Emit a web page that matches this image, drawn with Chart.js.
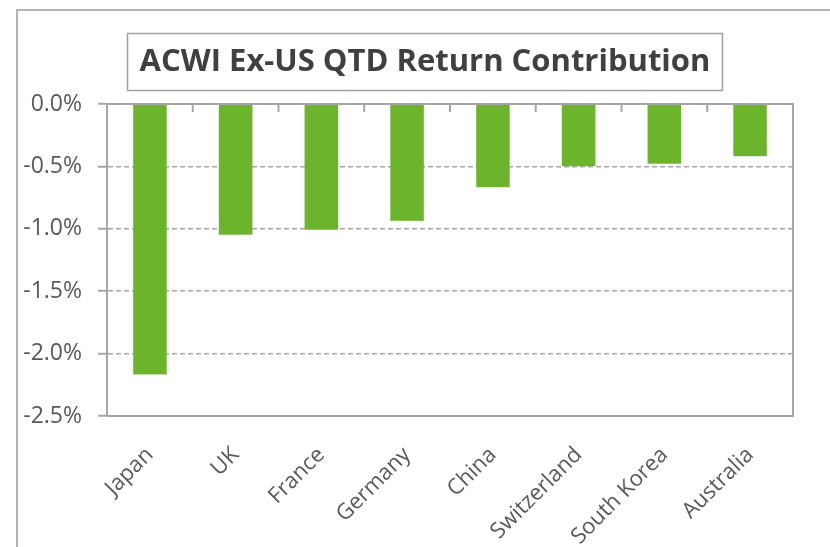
<!DOCTYPE html>
<html>
<head>
<meta charset="utf-8">
<script src="https://cdn.jsdelivr.net/npm/chart.js@4/dist/chart.umd.min.js"></script>
<style>
  html, body { margin: 0; padding: 0; background: #fff; }
  #wrap { width: 830px; height: 547px; }
</style>
</head>
<body>
<div id="wrap"><canvas id="returnChart"></canvas></div>
<script>
// Datos de la grafica
var paises = ['Japan', 'UK', 'France', 'Germany', 'China', 'Switzerland', 'South Korea', 'Australia'];
var contribucion = [-2.17, -1.05, -1.01, -0.94, -0.67, -0.50, -0.48, -0.42];
var titulo = 'ACWI Ex-US QTD Return Contribution';
var ejeMin = -2.5;
var ejeMax = 0;
var ejePaso = 0.5;

var grisEje = '#a6a6a6';
var grisTexto = '#595959';
var fuente = '"Open Sans"';

// Marco exterior, caja del titulo y borde del area de trazado
var marcoPlugin = {
    id: 'marco',
    beforeDatasetsDraw: function (chart) {
        var ctx = chart.ctx;
        var a = chart.chartArea;
        var x = chart.scales.x;
        ctx.save();
        ctx.strokeStyle = grisEje;
        ctx.lineWidth = 2;
        ctx.beginPath();
        ctx.moveTo(a.left, a.top);
        ctx.lineTo(a.right, a.top);
        ctx.lineTo(a.right, a.bottom);
        ctx.lineTo(a.left, a.bottom);
        ctx.stroke();
        // marcas de categoria hacia dentro
        for (var i = 1; i < paises.length; i++) {
            var px = (x.getPixelForValue(i - 1) + x.getPixelForValue(i)) / 2;
            ctx.beginPath();
            ctx.moveTo(px, a.top);
            ctx.lineTo(px, a.top + 8);
            ctx.stroke();
        }
        ctx.restore();
    },
    afterDraw: function (chart) {
        var ctx = chart.ctx;
        ctx.save();
        ctx.strokeStyle = '#b4b4b4';
        ctx.lineWidth = 2;
        ctx.beginPath();
        ctx.moveTo(17, chart.height);
        ctx.lineTo(17, 10);
        ctx.lineTo(chart.width, 10);
        ctx.stroke();

        ctx.lineWidth = 1.5;
        ctx.strokeStyle = '#a0a0a0';
        ctx.strokeRect(127.5, 33.5, 595, 57);

        ctx.fillStyle = '#404040';
        ctx.font = 'bold 31px ' + fuente;
        ctx.textAlign = 'center';
        ctx.textBaseline = 'middle';
        ctx.fillText(titulo, 425, 62);
        ctx.restore();
    }
};

var ctx = document.getElementById('returnChart');

var config = {
    type: 'bar',
    data: {
        labels: paises,
        datasets: [{
            label: titulo,
            data: contribucion,
            backgroundColor: '#6bb42c',
            borderColor: '#8fcc5e',
            borderWidth: 0.5,
            barPercentage: 0.8,
            categoryPercentage: 0.5
        }]
    },
    options: {
        responsive: true,
        maintainAspectRatio: false,
        animation: false,
        layout: { padding: { top: 104, right: 37, left: 0, bottom: 0 } },
        plugins: {
            legend: { display: false },
            tooltip: { enabled: false }
        },
        scales: {
            x: {
                grid: { display: false },
                border: { display: false },
                afterFit: function (scale) { scale.height = 131; },
                ticks: {
                    color: grisTexto,
                    font: { family: fuente, size: 22 },
                    minRotation: 45,
                    maxRotation: 45,
                    padding: 18
                }
            },
            y: {
                min: ejeMin,
                max: ejeMax,
                afterFit: function (scale) { scale.width = 107; },
                border: { display: true, color: grisEje, width: 2, dash: [5, 3] },
                grid: {
                    color: function (c) {
                        if (c.tick && (c.tick.value === 0 || c.tick.value === ejeMin)) return 'rgba(0,0,0,0)';
                        return grisEje;
                    },
                    lineWidth: 1.5,
                    tickColor: grisEje,
                    tickLength: 9,
                    tickWidth: 2
                },
                ticks: {
                    stepSize: ejePaso,
                    color: grisTexto,
                    padding: 16,
                    font: { family: fuente, size: 23 },
                    callback: function (v) { return v.toFixed(1) + '%'; }
                }
            }
        }
    },
    plugins: [marcoPlugin]
};

window.myBar = new Chart(ctx, config);
</script>
</body>
</html>
